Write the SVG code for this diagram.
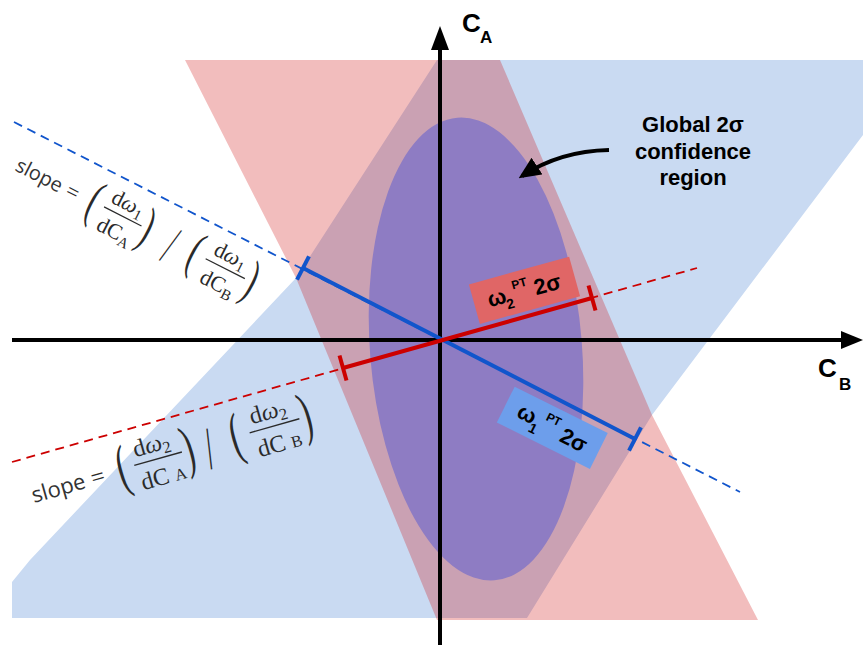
<svg xmlns="http://www.w3.org/2000/svg" width="863" height="645" viewBox="0 0 863 645">
<defs>
<style>
.lbl{font-family:"Liberation Sans",Arial,sans-serif;font-weight:bold;fill:#000}
.sl{font-family:"Open Sans","DejaVu Sans",sans-serif;font-size:20px;fill:#333}
.mt{font-family:"Liberation Serif","DejaVu Serif",serif;font-size:22px;fill:#2a2a2a}
.pr{font-family:"Liberation Serif","DejaVu Serif",serif;font-size:30px;fill:#2a2a2a}
.it{font-style:italic}
.sb{font-size:15px}
.bar{stroke:#2a2a2a;stroke-width:1.2}
.dash{fill:none;stroke-width:1.8;stroke-dasharray:9 6}
.solid{fill:none;stroke-width:4}
.blue{stroke:#1155cc}
.red{stroke:#cc0000}
.axis{stroke:#000;stroke-width:4}
</style>
<marker id="ah" markerUnits="userSpaceOnUse" markerWidth="22" markerHeight="20" viewBox="0 0 22 20" refX="18" refY="10" orient="auto"><path d="M0,0 L22,10 L0,20 z" fill="#000"/></marker>
</defs>
<rect width="863" height="645" fill="#fff"/>
<g id="regions">
<polygon id="blue-region" points="437,60 863,60 863,135 652,415 527,618 12,618 12,582 30,560 296,278" fill="#c9daf2"/>
<polygon id="red-region" points="185,60 500,60 652,415 758,620 437,620 296,278" fill="#cc0000" fill-opacity="0.26"/>
</g>
<g id="global-region">
<ellipse cx="476" cy="349" rx="106" ry="232" transform="rotate(-4.6 476 349)" fill="#8e7cc3"/>
</g>
<g id="axes">
<line class="axis" x1="440" y1="645" x2="440" y2="46"/>
<polygon points="440,26 449,50 431,50" fill="#000"/>
<line class="axis" x1="12" y1="340" x2="845" y2="340"/>
<polygon points="863,340 841,331 841,349" fill="#000"/>
<text class="lbl" font-size="26" x="462" y="32">C</text>
<text class="lbl" font-size="17" x="480" y="43">A</text>
<text class="lbl" font-size="26" x="818" y="377">C</text>
<text class="lbl" font-size="17" x="839" y="390">B</text>
</g>
<g id="connectors">
<line class="dash blue" x1="14" y1="122" x2="740" y2="492"/>
<line class="dash red" x1="12" y1="462" x2="697" y2="268"/>
<line class="solid blue" x1="303" y1="268" x2="635" y2="439"/>
<line class="solid blue" x1="297" y1="279.6" x2="309" y2="256.4"/>
<line class="solid blue" x1="629" y1="450.6" x2="641" y2="427.4"/>
<line class="solid red" x1="343" y1="368" x2="592" y2="298"/>
<line class="solid red" x1="339.5" y1="355.5" x2="346.5" y2="380.5"/>
<line class="solid red" x1="588.5" y1="285.5" x2="595.5" y2="310.5"/>
<path d="M609,150 Q560,151 522,176" fill="none" stroke="#000" stroke-width="4" marker-end="url(#ah)"/>
</g>
<g id="omega2-label" transform="translate(524.5,290.3) rotate(-15.5)">
<rect x="-52" y="-20.5" width="104" height="41" fill="#e06666"/>
<text class="lbl" font-size="22" x="-38" y="7">ω</text>
<text class="lbl" font-size="14" x="-21" y="14">2</text>
<text class="lbl" font-size="12" x="-11" y="-4">PT</text>
<text class="lbl" font-size="22" x="10" y="8">2σ</text>
</g>
<g id="omega1-label" transform="translate(552.3,427.8) rotate(26.5)">
<rect x="-52" y="-20" width="104" height="40" fill="#6d9eeb"/>
<text class="lbl" font-size="22" x="-38" y="6">ω</text>
<text class="lbl" font-size="14" x="-21" y="14">1</text>
<text class="lbl" font-size="12" x="-10" y="-4">PT</text>
<text class="lbl" font-size="22" x="11" y="9">2σ</text>
</g>
<g id="global-label">
<text class="lbl" font-size="22" text-anchor="middle" x="693" y="132">Global 2σ</text>
<text class="lbl" font-size="22" text-anchor="middle" x="693" y="159">confidence</text>
<text class="lbl" font-size="22" text-anchor="middle" x="693" y="185">region</text>
</g>
<g id="slope1" transform="translate(14,170) rotate(27)">
<text class="sl" x="0" y="0">slope</text>
<text class="mt" font-size="24" x="56" y="0">=</text>
<text class="pr" transform="translate(81,7.5) scale(1,1.8)">(</text>
<text class="mt" x="100" y="-15">d<tspan class="it">ω</tspan><tspan class="sb" dy="4">1</tspan></text>
<line class="bar" x1="97" y1="-8" x2="139" y2="-8"/>
<text class="mt" x="99" y="16">dC<tspan class="sb" dy="4">A</tspan></text>
<text class="pr" transform="translate(140,7.5) scale(1,1.8)">)</text>
<text class="mt" font-size="26" transform="translate(170,14) scale(1.2,2.5)">/</text>
<text class="pr" transform="translate(194,7.5) scale(1,1.8)">(</text>
<text class="mt" x="215" y="-15">d<tspan class="it">ω</tspan><tspan class="sb" dy="4">1</tspan></text>
<line class="bar" x1="211" y1="-8" x2="255" y2="-8"/>
<text class="mt" x="215" y="16">dC<tspan class="sb" dy="4">B</tspan></text>
<text class="pr" transform="translate(257,7.5) scale(1,1.8)">)</text>
</g>
<g id="slope2" transform="translate(34,503) rotate(-15.8) scale(1.1)">
<text class="sl" x="0" y="0">slope</text>
<text class="mt" font-size="24" x="56" y="0">=</text>
<text class="pr" transform="translate(81,7.5) scale(1,1.8)">(</text>
<text class="mt" x="100" y="-15">d<tspan class="it">ω</tspan><tspan class="sb" dy="4">2</tspan></text>
<line class="bar" x1="97" y1="-8" x2="142" y2="-8"/>
<text class="mt" x="99" y="16">dC <tspan class="sb">A</tspan></text>
<text class="pr" transform="translate(143,7.5) scale(1,1.8)">)</text>
<text class="mt" font-size="26" transform="translate(163,14) scale(1.2,2.5)">/</text>
<text class="pr" transform="translate(188,7.5) scale(1,1.8)">(</text>
<text class="mt" x="210" y="-15">d<tspan class="it">ω</tspan><tspan class="sb" dy="4">2</tspan></text>
<line class="bar" x1="206" y1="-8" x2="253" y2="-8"/>
<text class="mt" x="209" y="16">dC <tspan class="sb">B</tspan></text>
<text class="pr" transform="translate(254,7.5) scale(1,1.8)">)</text>
</g>
</svg>
